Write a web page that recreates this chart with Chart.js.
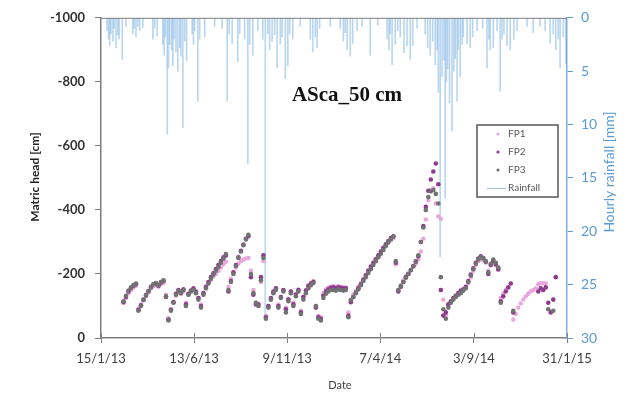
<!DOCTYPE html>
<html>
<head>
<meta charset="utf-8">
<script src="https://cdn.jsdelivr.net/npm/chart.js@4.4.1/dist/chart.umd.min.js"></script>
<style>
  html, body { margin: 0; padding: 0; background: #fff; }
  #wrap { position: relative; width: 632px; height: 393px; }
</style>
</head>
<body>
<div id="wrap"><canvas id="matricChart"></canvas></div>
<script>
// days counted from 15/1/13, samples every 4 days starting on day 32
const sampleStartDay = 32;
const sampleStepDays = 4;

const xTickDays = [0, 149, 298, 447, 597, 746];
const xTickLabels = ['15/1/13', '13/6/13', '9/11/13', '7/4/14', '3/9/14', '31/1/15'];

const fp1Head = [
  null, -110, -125, -140, -150, -158, -163, -92, -105, -120,
  -132, -143, -155, -162, -165, -160, -168, -172, -135, -62,
  -90, -112, -132, -142, -138, -146, -110, -136, -145, -150,
  -140, -125, -105, -140, -158, -170, -182, -192, -200, -210,
  -220, -230, -238, -160, -185, -205, -220, -232, -240, -245,
  -248, -250, -210, -150, -110, -105, -175, -240, -70, -100,
  -120, -140, -152, -105, -128, -148, -95, -122, -145, -110,
  -138, -152, -85, -130, -150, -165, -172, -178, -100, -70,
  -65, -140, -152, -158, -160, -162, -160, -162, -160, -158,
  -158, -80, -120, -135, -148, -160, -172, -185, -198, -212,
  -225, -237, -248, -258, -268, -280, -290, -300, -308, -312,
  -230, -150, -165, -180, -192, -202, -212, -222, -232, -245,
  -270, -310, -370, -430, -462, -468, -420, -380, -372, -120,
  -70, -100, -112, -122, -130, -138, -145, -150, -158, -172,
  -190, -210, -228, -240, -245, -243, -235, -210, -228, -238,
  -228, -212, -125, -138, -150, null, null, -58, -75, -95,
  -108, -120, -130, -138, -145, -150, -155, -168, -171, -171,
  -170, null, null, null, null, null
];

const fp2Head = [
  null, -112, -128, -145, -156, -163, -168, -88, -102, -120,
  -134, -147, -160, -168, -170, -163, -173, -178, -128, -58,
  -88, -112, -138, -150, -142, -152, -105, -138, -148, -155,
  -145, -125, -100, -140, -160, -175, -190, -202, -215, -228,
  -240, -252, -258, -145, -178, -205, -228, -252, -272, -292,
  -310, -318, -190, -135, -105, -105, -190, -258, -65, -100,
  -125, -145, -155, -100, -128, -150, -90, -120, -145, -105,
  -135, -150, -80, -128, -148, -162, -170, -175, -95, -65,
  -60, -132, -145, -152, -157, -158, -155, -158, -157, -155,
  -155, -70, -112, -128, -142, -155, -168, -182, -196, -210,
  -222, -234, -246, -258, -270, -282, -293, -303, -312, -318,
  -235, -145, -160, -175, -190, -200, -212, -225, -238, -255,
  -300, -350, -410, -460, -495, -520, -545, -480, -150, -70,
  -80, -105, -115, -125, -132, -140, -148, -152, -160, -178,
  -198, -218, -235, -248, -255, -250, -238, -200, -228, -240,
  -230, -215, -115, -130, -145, -158, -170, -80, null, null,
  null, null, null, null, null, null, null, -145, -155, -150,
  -158, -110, -80, -120, -190, null
];

const fp3Head = [
  null, -115, -132, -148, -158, -165, -170, -85, -100, -118,
  -132, -145, -158, -168, -172, -165, -175, -180, -130, -55,
  -85, -110, -135, -148, -140, -150, -100, -135, -145, -150,
  -140, -120, -95, -135, -155, -170, -185, -198, -210, -222,
  -235, -248, -262, -150, -175, -200, -225, -250, -270, -290,
  -308, -322, -200, -140, -110, -100, -180, -250, -60, -95,
  -120, -140, -150, -95, -125, -145, -80, -115, -140, -100,
  -130, -145, -75, -120, -140, -155, -165, -172, -100, -60,
  -55, -125, -138, -145, -150, -150, -148, -152, -150, -148,
  -150, -65, -118, -128, -140, -152, -165, -178, -190, -203,
  -215, -228, -240, -252, -263, -275, -287, -298, -308, -316,
  -240, -150, -162, -175, -188, -200, -212, -225, -240, -258,
  -300, -345, -400, -440, -458, -462, -450, -420, -190, -90,
  -60, -95, -110, -120, -128, -135, -140, -148, -155, -175,
  -195, -215, -232, -245, -252, -248, -240, -205, -232, -245,
  -235, -220, -110, null, null, null, null, -85, null, null,
  null, null, null, null, null, null, null, null, null, null,
  null, -90, null, -85, null, null
];

const rainDay = [
  9.6, 12, 14, 16, 19, 21, 24, 27, 29, 34, 40, 51, 53, 56, 59, 62, 67, 83, 86, 90,
  99, 101, 103, 106, 108, 110, 113, 115, 117, 120, 123, 126, 128, 131, 134, 137,
  146, 148, 150, 155, 158, 166, 182, 194, 202, 205, 210, 219, 222, 230, 235, 238,
  243, 251, 259, 263, 267, 270, 274, 278, 282, 287, 290, 295, 299, 302, 307, 319,
  335, 339, 343, 346, 350, 367, 383, 388, 391, 394, 399, 403, 410, 418, 431, 443,
  458, 461, 463, 466, 471, 475, 479, 485, 490, 495, 499, 506, 519, 523, 527, 531,
  535, 538, 540, 543, 546, 549, 551, 553, 555, 558, 562, 565, 567, 570, 572, 575,
  578, 580, 586, 591, 595, 602, 611, 618, 621, 623, 628, 634, 639, 642, 645, 650,
  655, 661, 666, 682, 692, 703, 711, 719, 724, 728, 732, 735, 740, 744
];

const rainMm = [
  1.2, 2.0, 2.6, 1.5, 2.2, 1.0, 2.8, 1.6, 2.0, 3.9, 0.8, 1.5, 1.0, 1.8, 0.8, 1.2, 0.9, 2.0, 1.0, 1.7,
  2.5, 3.5, 1.8, 10.9, 4.7, 2.5, 3.0, 4.5, 2.0, 3.2, 5.0, 2.8, 3.6, 10.3, 2.2, 4.0,
  1.5, 2.5, 1.2, 7.8, 2.0, 1.8, 0.8, 1.0, 7.8, 1.5, 2.4, 4.1, 1.5, 2.0, 13.7, 2.5,
  3.5, 1.2, 2.0, 28.3, 1.5, 3.0, 2.2, 1.6, 4.7, 2.5, 1.8, 5.7, 4.5, 1.5, 2.0, 0.8,
  2.0, 3.2, 1.8, 2.8, 1.0, 0.8, 1.0, 2.2, 1.4, 3.0, 3.6, 2.4, 1.2, 0.8, 3.5, 0.7,
  2.0, 3.0, 1.5, 4.4, 2.5, 1.2, 1.8, 3.3, 2.6, 3.9, 2.6, 1.0, 1.5, 2.8, 3.5, 2.2,
  4.4, 3.0, 7.0, 22.4, 5.5, 4.0, 16.9, 6.0, 4.8, 8.0, 10.6, 5.0, 3.8, 7.8, 3.0, 5.5,
  2.5, 1.8, 2.4, 2.8, 1.8, 1.2, 1.0, 4.7, 2.0, 3.0, 2.8, 1.2, 6.9, 2.0, 1.5, 2.6,
  3.0, 2.0, 1.2, 0.8, 1.4, 0.8, 1.2, 2.4, 1.5, 3.0, 2.0, 4.7, 1.8, 4.3
];

function toPoints(values) {
  return values
    .map((v, i) => (v === null ? null : { x: sampleStartDay + i * sampleStepDays, y: v }))
    .filter(Boolean);
}

const seriesColors = {
  fp1: '#eaa6dc',
  fp2: '#8e3b8e',
  fp3: '#727272',
  rain: 'rgba(120,175,225,0.5)',
};

/* axis titles, chart title, legend box, inner half of the x ticks */
const decorPlugin = {
  id: 'decor',
  afterDraw(chart) {
    const { ctx, chartArea: area, scales } = chart;
    ctx.save();

    ctx.strokeStyle = '#7f7f7f';
    ctx.lineWidth = 1;
    ctx.beginPath();
    ctx.moveTo(area.left, area.top + 0.5);
    ctx.lineTo(area.right, area.top + 0.5);
    xTickDays.forEach((d) => {
      const px = Math.round(scales.x.getPixelForValue(d)) + 0.5;
      ctx.moveTo(px, area.bottom);
      ctx.lineTo(px, area.bottom - 5);
    });
    ctx.stroke();

    ctx.fillStyle = '#111';
    ctx.font = 'bold 21px "Liberation Serif"';
    ctx.textAlign = 'center';
    ctx.textBaseline = 'alphabetic';
    ctx.fillText('ASca_50 cm', 347, 101);

    ctx.fillStyle = '#222';
    ctx.font = 'bold 12px Lato';
    ctx.textBaseline = 'middle';
    ctx.translate(35, 177);
    ctx.rotate(-Math.PI / 2);
    ctx.fillText('Matric head [cm]', 0, 0);
    ctx.setTransform(1, 0, 0, 1, 0, 0);

    ctx.fillStyle = '#5b9bd5';
    ctx.font = '14px Lato';
    ctx.translate(609, 172);
    ctx.rotate(-Math.PI / 2);
    ctx.fillText('Hourly rainfall [mm]', 0, 0);
    ctx.setTransform(1, 0, 0, 1, 0, 0);

    ctx.fillStyle = '#404040';
    ctx.font = '11px Lato';
    ctx.fillText('Date', 340, 385);

    // legend
    ctx.fillStyle = '#fff';
    ctx.fillRect(477, 125, 81, 72);
    ctx.strokeStyle = '#555';
    ctx.lineWidth = 1.5;
    ctx.strokeRect(477, 125, 81, 72);

    const items = [
      { label: 'FP1', color: seriesColors.fp1, y: 134 },
      { label: 'FP2', color: seriesColors.fp2, y: 152 },
      { label: 'FP3', color: seriesColors.fp3, y: 170 },
    ];
    ctx.font = '10px Lato';
    ctx.textAlign = 'left';
    items.forEach((item) => {
      ctx.fillStyle = item.color;
      ctx.beginPath();
      ctx.arc(498, item.y, 1.6, 0, Math.PI * 2);
      ctx.fill();
      ctx.fillStyle = '#595959';
      ctx.fillText(item.label, 508, item.y);
    });
    ctx.strokeStyle = '#9dc3e6';
    ctx.lineWidth = 1;
    ctx.beginPath();
    ctx.moveTo(487, 188.5);
    ctx.lineTo(506, 188.5);
    ctx.stroke();
    ctx.fillStyle = '#595959';
    ctx.fillText('Rainfall', 508, 188);

    ctx.restore();
  },
};

new Chart(document.getElementById('matricChart'), {
  type: 'scatter',
  data: {
    datasets: [
      {
        label: 'FP1',
        data: toPoints(fp1Head),
        backgroundColor: seriesColors.fp1,
        borderColor: seriesColors.fp1,
        pointRadius: 2.2,
        borderWidth: 0,
        order: 3,
      },
      {
        label: 'FP2',
        data: toPoints(fp2Head),
        backgroundColor: seriesColors.fp2,
        borderColor: seriesColors.fp2,
        pointRadius: 2.3,
        borderWidth: 0,
        order: 2,
      },
      {
        label: 'FP3',
        data: toPoints(fp3Head),
        backgroundColor: seriesColors.fp3,
        borderColor: seriesColors.fp3,
        pointRadius: 2.3,
        borderWidth: 0,
        order: 1,
      },
      {
        type: 'bar',
        label: 'Rainfall',
        data: rainDay.map((d, i) => ({ x: d, y: rainMm[i] })),
        yAxisID: 'y2',
        backgroundColor: seriesColors.rain,
        barThickness: 1,
        grouped: false,
        order: 4,
      },
    ],
  },
  options: {
    responsive: true,
    maintainAspectRatio: false,
    animation: false,
    layout: { padding: { top: 16, left: 0, right: 0, bottom: 0 } },
    plugins: {
      legend: { display: false },
      tooltip: { enabled: false },
    },
    scales: {
      x: {
        type: 'linear',
        min: 0,
        max: 746,
        offset: false,
        afterBuildTicks(scale) {
          scale.ticks = xTickDays.map((v) => ({ value: v }));
        },
        afterFit(scale) {
          scale.height = 55;
        },
        ticks: {
          autoSkip: false,
          maxRotation: 0,
          padding: 8,
          color: '#404040',
          font: { family: 'Lato', size: 13 },
          callback(value, index) {
            return xTickLabels[index];
          },
        },
        grid: {
          drawOnChartArea: false,
          offset: false,
          color: '#7f7f7f',
          tickLength: 5,
        },
        border: { color: '#7f7f7f', width: 1.5 },
      },
      y: {
        position: 'left',
        min: -1000,
        max: 0,
        reverse: true,
        afterFit(scale) {
          scale.width = 101;
        },
        ticks: {
          stepSize: 200,
          padding: 10,
          color: '#333',
          font: { family: 'Lato', size: 13, weight: 'bold' },
          callback(value) {
            return String(value);
          },
        },
        grid: {
          drawOnChartArea: false,
          color: '#7f7f7f',
          tickLength: 6,
        },
        border: { color: '#7f7f7f', width: 1.5 },
      },
      y2: {
        position: 'right',
        min: 0,
        max: 30,
        reverse: true,
        afterFit(scale) {
          scale.width = 65;
        },
        ticks: {
          stepSize: 5,
          padding: 8,
          color: '#5b9bd5',
          font: { family: 'Lato', size: 14 },
        },
        grid: {
          drawOnChartArea: false,
          color: '#5b9bd5',
          tickLength: 6,
        },
        border: { color: '#7fb0dc', width: 1.5 },
      },
    },
  },
  plugins: [decorPlugin],
});
</script>
</body>
</html>
